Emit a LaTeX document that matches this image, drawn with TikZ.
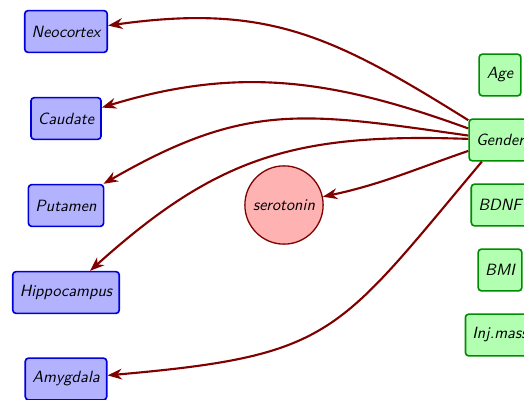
\documentclass[tikz,border=0pt]{standalone}
\usetikzlibrary{arrows.meta}
\begin{document}
\begin{tikzpicture}[x=0.6135pt,y=0.6135pt,
  lbox/.style={draw=blue!85!black, fill=blue!30, line width=1pt, rounded corners=2pt,
    minimum width=25.6pt, minimum height=25.6pt, inner sep=4.3pt, font=\sffamily\itshape},
  rbox/.style={draw=green!55!black, fill=green!30, line width=1pt, rounded corners=2pt,
    minimum width=25.6pt, minimum height=25.6pt, inner sep=4.3pt, font=\sffamily\itshape},
  circ/.style={circle, draw=red!50!black, fill=red!30, line width=0.8pt,
    minimum size=48pt, inner sep=1pt, font=\sffamily\itshape},
  link/.style={draw=red!50!black, line width=1.3pt, -{Stealth}}]
\useasboundingbox (0,0) rectangle (524,-400);
\clip (0,0) rectangle (524,-400);
% left column
\node[lbox] (neo)  at (66,-31.5) {Neocortex};
\node[lbox] (cau)  at (66,-118.5) {Caudate};
\node[lbox] (put)  at (66,-205.5) {Putamen};
\node[lbox] (hip)  at (66,-292.5) {Hippocampus};
\node[lbox] (amy)  at (66,-379) {Amygdala};
% middle
\node[circ] (ser) at (284,-205) {serotonin};
% right column
\node[rbox] (age)  at (500,-75) {Age};
\node[rbox] (gen)  at (500,-140) {Gender};
\node[rbox] (bdnf) at (500,-205) {BDNF};
\node[rbox] (bmi)  at (500,-270) {BMI};
\node[rbox] (inj)  at (500,-335) {Inj.mass};
% connectors
\draw[link] (gen) to[out=148,in=8,looseness=1.1] (neo);
\draw[link] (gen) to[out=160,in=17] (cau);
\draw[link] (gen) to[out=172,in=30,looseness=1.15] (put);
\draw[link] (gen) to[out=178,in=42,looseness=1.1] (hip);
\draw[link] (gen) to[out=199,in=12] (ser);
\draw[link] (gen) to[out=230,in=5,looseness=1.35] (amy);
\end{tikzpicture}
\end{document}
